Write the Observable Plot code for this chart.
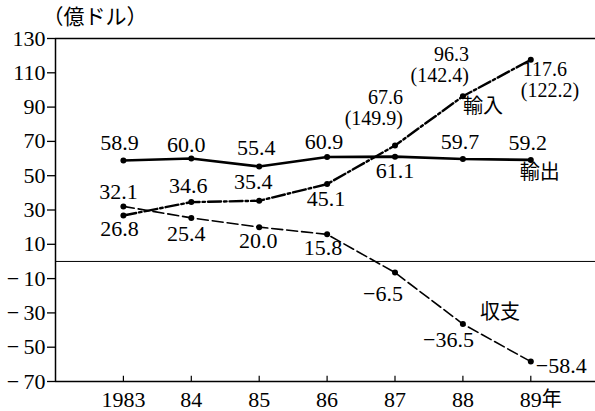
<!DOCTYPE html>
<html>
<head>
<meta charset="utf-8">
<script src="https://cdn.jsdelivr.net/npm/d3@7"></script>
<script src="https://cdn.jsdelivr.net/npm/@observablehq/plot@0.6"></script>
<style>
  body { margin: 0; background: white; }
  #chart { width: 595px; height: 411px; }
</style>
</head>
<body>
<div id="chart"></div>
<script>
// ---- data ----
const years = [1983, 1984, 1985, 1986, 1987, 1988, 1989];
const yearLabels = ["1983", "84", "85", "86", "87", "88", "89"];
const yearSuffix = "年";
const exportsVals = [58.9, 60.0, 55.4, 60.9, 61.1, 59.7, 59.2];
const importsVals = [26.8, 34.6, 35.4, 45.1, 67.6, 96.3, 117.6];
const balanceVals = [32.1, 25.4, 20.0, 15.8, -6.5, -36.5, -58.4];
const importsRatio = [null, null, null, null, 149.9, 142.4, 122.2];
const yTicks = [-70, -50, -30, -10, 10, 30, 50, 70, 90, 110, 130];
const seriesNames = ["輸出", "輸入", "収支"];
const unitLabel = "（億ドル）";

// ---- layout (label placement, pixels) ----
const exportsLabelPos = [[-4,-17],[-5,-14],[-3,-18],[-3,-15],[0,14],[-3,-17],[-3,-17]];
const importsLabelPos = [[-4,13],[-3,-16],[-6,-19],[-1,15],null,null,null];
const balanceLabelPos = [[-5,-14],[-5,16],[-1,14],[-4,14],null,null,null];

const minus = s => s.replace("-", "−\u2009");
const f1 = v => minus(d3.format(".1f")(v));

const serif = "Liberation Serif, DejaVu Serif, serif";
const cjk = "Noto Sans CJK JP, sans-serif";
const NUM = 22;

const rows = (vals) => years.map((y, i) => ({year: y, v: vals[i]}));

const labelMarks = [];
function addLabel(x, y, text, dx, dy, anchor = "middle", font = serif, size = NUM) {
  labelMarks.push(Plot.text([{x, y}], {
    x: "x", y: "y", text: () => text, dx, dy, textAnchor: anchor,
    lineAnchor: "middle", fontFamily: font, fontSize: size, fill: "black"
  }));
}
years.forEach((yr, i) => {
  const e = exportsLabelPos[i];
  addLabel(yr, exportsVals[i], f1(exportsVals[i]), e[0], e[1]);
  const m = importsLabelPos[i];
  if (m) addLabel(yr, importsVals[i], f1(importsVals[i]), m[0], m[1]);
  const b = balanceLabelPos[i];
  if (b) addLabel(yr, balanceVals[i], f1(balanceVals[i]), b[0], b[1]);
});
// imports 87-89 with ratio in parentheses
addLabel(1987, importsVals[4], f1(importsVals[4]), 8, -48, "end", serif, 20);
addLabel(1987, importsVals[4], "(" + importsRatio[4] + ")", 8, -27, "end", serif, 20);
addLabel(1988, importsVals[5], f1(importsVals[5]), 6, -42, "end", serif, 20);
addLabel(1988, importsVals[5], "(" + importsRatio[5] + ")", 6, -21, "end", serif, 20);
addLabel(1989, importsVals[6], f1(importsVals[6]), -8, 10, "start", serif, 20);
addLabel(1989, importsVals[6], "(" + importsRatio[6] + ")", -10, 31, "start", serif, 20);
// balance 87-89
addLabel(1987, balanceVals[4], f1(balanceVals[4]), 8, 21, "end");
addLabel(1988, balanceVals[5], f1(balanceVals[5]), 11, 16, "end");
addLabel(1989, balanceVals[6], f1(balanceVals[6]), 5, 4, "start");
// series names
addLabel(1989, exportsVals[6], seriesNames[0], 9, 13, "middle", cjk, 20);
addLabel(1988, importsVals[5], seriesNames[1], 20, 10, "middle", cjk, 20);
addLabel(1988, balanceVals[5], seriesNames[2], 37, -11, "middle", cjk, 20);

const chart = Plot.plot({
  width: 595,
  height: 411,
  marginLeft: 55,
  marginRight: 0,
  marginTop: 38,
  marginBottom: 30,
  x: {domain: [1982, 1982 + 540 / 67.9], axis: null},
  y: {domain: [-70, 130], axis: null},
  style: {fontFamily: serif, fontSize: NUM + "px", background: "white", color: "black"},
  marks: [
    // frame lines
    Plot.ruleY([130], {stroke: "black", strokeWidth: 1.5}),
    Plot.ruleY([-70], {stroke: "black", strokeWidth: 1.5}),
    Plot.ruleY([0], {stroke: "black", strokeWidth: 1}),
    Plot.ruleX([1982], {y1: -70, y2: 130, stroke: "black", strokeWidth: 1.5}),
    // y axis
    Plot.axisY({ticks: yTicks, tickSize: 8, tickPadding: 2, strokeWidth: 1.3,
      tickFormat: d => minus(String(d)), fontSize: NUM, fontFamily: serif}),
    // x ticks (inward) and labels
    Plot.ruleX(years, {x: d => d, y1: -70, y2: -67, stroke: "black", strokeWidth: 1.2}),
    Plot.text(years, {x: d => d, y: -70, text: (d, i) => yearLabels[i], dy: 18,
      lineAnchor: "middle", fontSize: NUM, fontFamily: serif}),
    Plot.text([years[6]], {x: d => d, y: -70, text: () => yearSuffix, dy: 18, dx: 11,
      textAnchor: "start", lineAnchor: "middle", fontSize: 20, fontFamily: cjk}),
    // series lines
    Plot.line(rows(exportsVals), {x: "year", y: "v", stroke: "black", strokeWidth: 2.6}),
    Plot.line(rows(importsVals), {x: "year", y: "v", stroke: "black", strokeWidth: 2.4,
      strokeDasharray: "13,3,2.5,3"}),
    Plot.line(rows(balanceVals), {x: "year", y: "v", stroke: "black", strokeWidth: 1.6,
      strokeDasharray: "11,4"}),
    // points
    Plot.dot(rows(exportsVals), {x: "year", y: "v", r: 3, fill: "black"}),
    Plot.dot(rows(importsVals), {x: "year", y: "v", r: 3, fill: "black"}),
    Plot.dot(rows(balanceVals), {x: "year", y: "v", r: 3, fill: "black"}),
    // unit label
    Plot.text([unitLabel], {frameAnchor: "top-left", text: d => d, dx: -13, dy: -21,
      textAnchor: "start", lineAnchor: "middle", fontFamily: cjk, fontSize: 21}),
    ...labelMarks
  ]
});
document.getElementById("chart").appendChild(chart);
</script>
</body>
</html>
